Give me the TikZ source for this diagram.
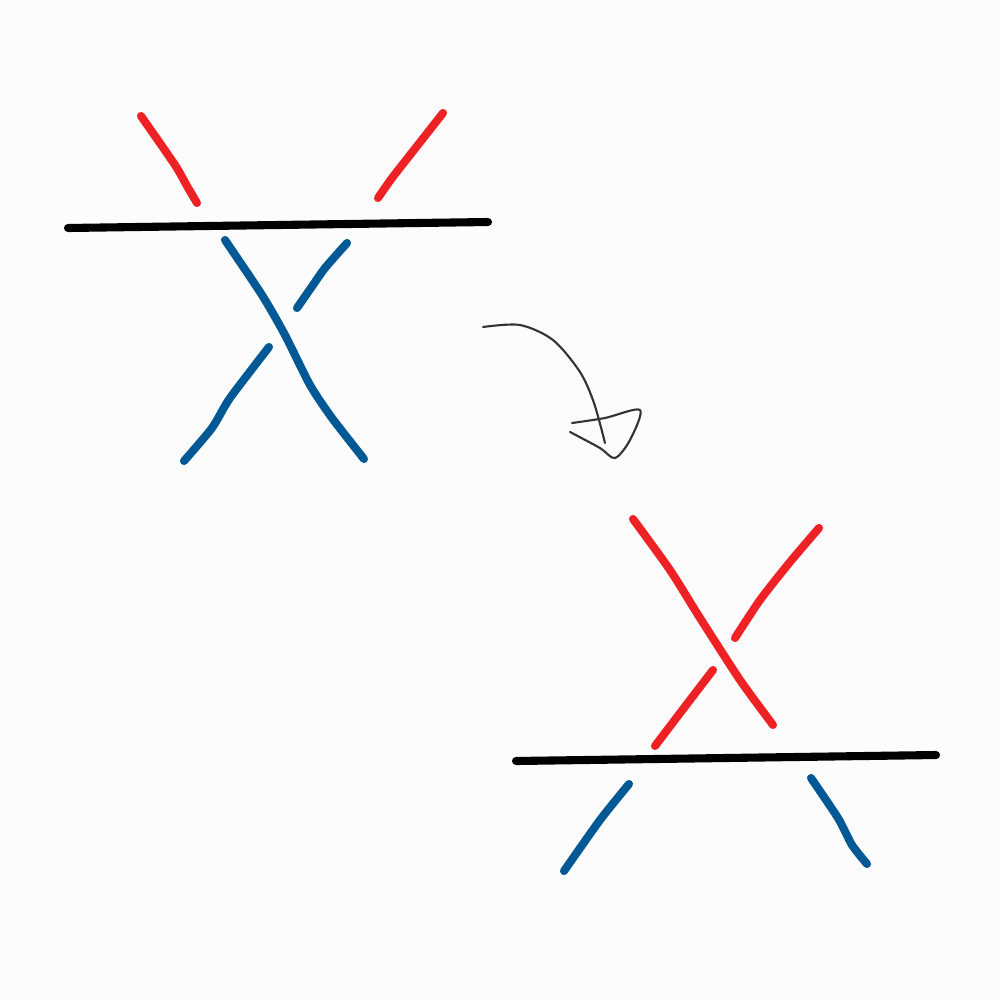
\documentclass[tikz,border=0pt]{standalone}
\begin{document}
\begin{tikzpicture}[x=0.01cm,y=-0.01cm,
  stroke/.style={line width=2.3pt,line cap=round,line join=round},
  redline/.style={stroke,draw={rgb,255:red,238;green,34;blue,36}},
  blueline/.style={stroke,draw={rgb,255:red,0;green,88;blue,148}},
  blackline/.style={stroke,draw=black},
  pencil/.style={line width=0.6pt,draw=black!80,line cap=round,line join=round}]
\fill[white!99!black] (0,0) rectangle (1000,1000);
\useasboundingbox (0,0) rectangle (1000,1000);
% top picture
\draw[blackline] (68,228) -- (488,222);
\draw[redline] plot[smooth,tension=0.4] coordinates {(141,116) (175,165) (187,186) (197,203)};
\draw[redline] plot[smooth,tension=0.4] coordinates {(443,113) (410,155) (392,178) (378,198)};
\draw[blueline] plot[smooth,tension=0.4] coordinates {(225,240) (262,295) (285,335) (310,385) (332,418) (364,459)};
\draw[blueline] plot[smooth,tension=0.4] coordinates {(347,243) (325,268) (313,285) (297,308)};
\draw[blueline] plot[smooth,tension=0.4] coordinates {(269,347) (230,398) (212,428) (184,461)};
% arrow
\draw[pencil] plot[smooth] coordinates {(483,327) (520,325) (553,340) (580,372) (594,403) (605,443)};
\draw[pencil] plot[smooth,tension=0.5] coordinates {(572,423) (605,418) (640,410) (630,440) (615,458) (600,448) (570,432)};
% bottom picture
\draw[blackline] (516,761) -- (936,755);
\draw[redline] plot[smooth,tension=0.4] coordinates {(633,519) (670,570) (700,618) (740,680) (773,725)};
\draw[redline] plot[smooth,tension=0.4] coordinates {(819,528) (790,562) (760,600) (735,638)};
\draw[redline] plot[smooth,tension=0.4] coordinates {(713,670) (690,700) (655,746)};
\draw[blueline] plot[smooth,tension=0.4] coordinates {(629,784) (600,820) (564,871)};
\draw[blueline] plot[smooth,tension=0.4] coordinates {(811,778) (838,818) (852,845) (867,864)};
\end{tikzpicture}
\end{document}
